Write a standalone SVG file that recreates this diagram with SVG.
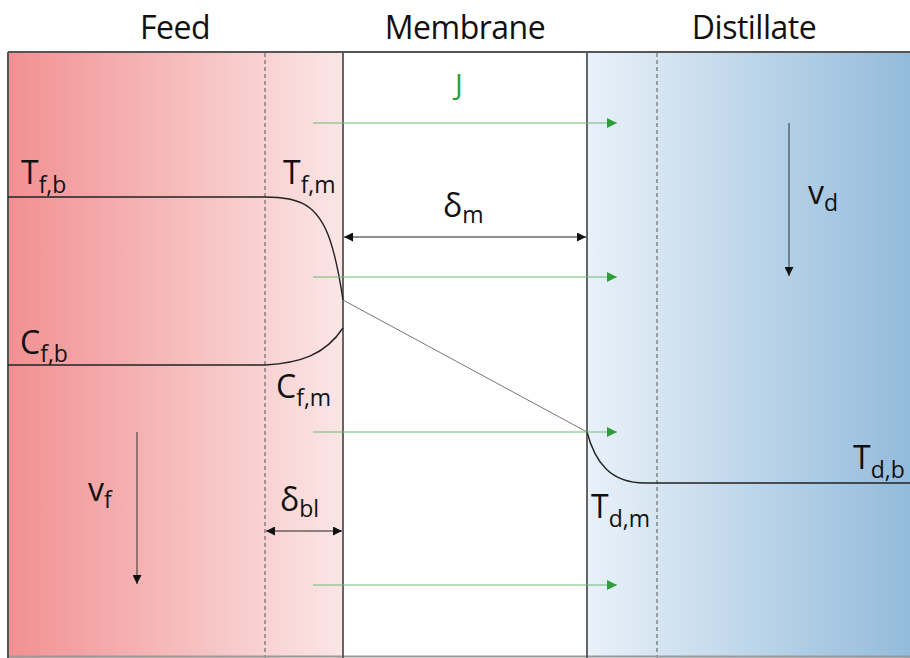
<svg xmlns="http://www.w3.org/2000/svg" width="910" height="658" viewBox="0 0 910 658">
<defs>
<linearGradient id="gFeed" x1="0" y1="0" x2="1" y2="0">
<stop offset="0" stop-color="#f19092"/>
<stop offset="1" stop-color="#fbe6e6"/>
</linearGradient>
<linearGradient id="gDist" x1="0" y1="0" x2="1" y2="0">
<stop offset="0" stop-color="#e9f1f9"/>
<stop offset="1" stop-color="#93bbdb"/>
</linearGradient>
<marker id="ag" viewBox="0 0 10 10" refX="10" refY="5" markerWidth="10" markerHeight="10" markerUnits="userSpaceOnUse" orient="auto">
<path d="M0,0 L10,5 L0,10 z" fill="#2e9e3a"/>
</marker>
<marker id="ab" viewBox="0 0 10 10" refX="10" refY="5" markerWidth="9" markerHeight="9" markerUnits="userSpaceOnUse" orient="auto-start-reverse">
<path d="M0,0 L10,5 L0,10 z" fill="#111"/>
</marker>
<style>
text{font-family:"Open Sans","Noto Sans",sans-serif;fill:#111}
.h{font-size:32px;letter-spacing:-0.5px}
.l{font-size:32px}
.s{font-size:23px}
.dash{stroke:#555;stroke-width:1;stroke-dasharray:4 3;fill:none}
.prof{stroke:#222;stroke-width:1.4;fill:none}
.flux{stroke:#6dbb74;stroke-width:1.2;marker-end:url(#ag)}
.dim{stroke:#222;stroke-width:1;marker-start:url(#ab);marker-end:url(#ab)}
.vel{stroke:#333;stroke-width:1;marker-end:url(#ab)}
</style>
</defs>
<g id="feed">
<rect x="8" y="52" width="335" height="606" fill="url(#gFeed)"/>
<line class="dash" x1="265" y1="53" x2="265" y2="658"/>
<text class="h" x="175" y="39" text-anchor="middle">Feed</text>
</g>
<g id="membrane">
<rect x="343" y="52" width="244" height="606" fill="#fff"/>
<text class="h" x="465" y="39" text-anchor="middle">Membrane</text>
</g>
<g id="distillate">
<rect x="587" y="52" width="323" height="606" fill="url(#gDist)"/>
<line class="dash" x1="657" y1="53" x2="657" y2="658"/>
<text class="h" x="754" y="39" text-anchor="middle">Distillate</text>
</g>
<g id="frame" fill="none" stroke="#555">
<line x1="8" y1="52" x2="910" y2="52" stroke-width="2"/>
<line x1="8" y1="656.5" x2="910" y2="656.5" stroke-width="2" stroke="#999"/>
<line x1="8" y1="52" x2="8" y2="658" stroke-width="2"/>
<line x1="343" y1="52" x2="343" y2="658" stroke-width="1.8"/>
<line x1="587" y1="52" x2="587" y2="658" stroke-width="1.8"/>
</g>
<g id="connectors">
<path class="prof" d="M8,197 L265,197 C300,197 318,205 330,240 C336,258 340,280 343,300"/>
<path class="prof" d="M8,365 L265,365 C300,363 325,355 343,328"/>
<path d="M343,300 L587,432" stroke="#777" stroke-width="1" fill="none"/>
<path class="prof" d="M587,432 C595,462 610,483 645,483 L910,483"/>
<line class="flux" x1="313" y1="123" x2="617" y2="123"/>
<line class="flux" x1="313" y1="277" x2="617" y2="277"/>
<line class="flux" x1="313" y1="432" x2="617" y2="432"/>
<line class="flux" x1="313" y1="585" x2="617" y2="585"/>
<line class="dim" x1="344" y1="237" x2="586" y2="237"/>
<line class="dim" x1="266" y1="531" x2="342" y2="531"/>
<line class="vel" x1="137" y1="432" x2="137" y2="584"/>
<line class="vel" x1="789" y1="123" x2="789" y2="276"/>
</g>
<g id="labels">
<text x="455" y="95" style="font-size:29px;fill:#2e9e3a">J</text>
<text class="l" x="21" y="184">T<tspan class="s" dy="9">f,b</tspan></text>
<text class="l" x="283" y="184">T<tspan class="s" dy="9">f,m</tspan></text>
<text class="l" x="20" y="354">C<tspan class="s" dy="8">f,b</tspan></text>
<text class="l" x="276" y="398">C<tspan class="s" dy="8">f,m</tspan></text>
<text class="l" x="443" y="217">δ<tspan class="s" dy="6">m</tspan></text>
<text class="l" x="280" y="511">δ<tspan class="s" dy="6">bl</tspan></text>
<text class="l" x="88" y="501">v<tspan class="s" dy="7">f</tspan></text>
<text class="l" x="808" y="204">v<tspan class="s" dy="7">d</tspan></text>
<text class="l" x="591" y="518">T<tspan class="s" dy="9">d,m</tspan></text>
<text class="l" x="853" y="469">T<tspan class="s" dy="9">d,b</tspan></text>
</g>
</svg>
